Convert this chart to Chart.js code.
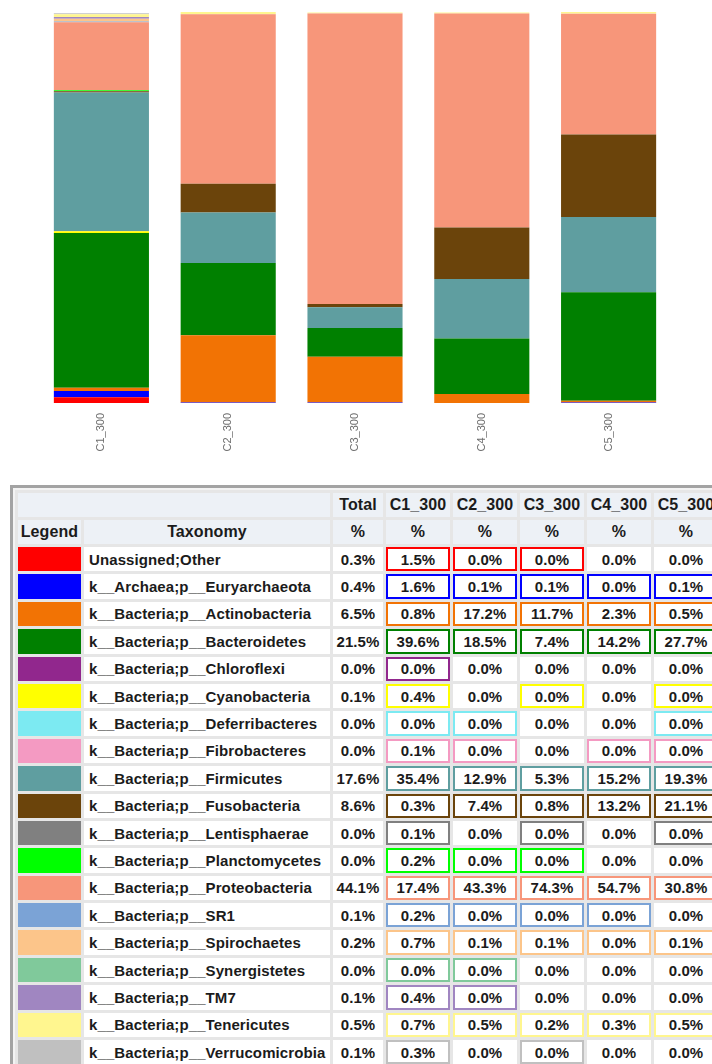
<!DOCTYPE html>
<html>
<head>
<meta charset="utf-8">
<script src="https://cdn.jsdelivr.net/npm/chart.js@4"></script>
<style>
  html, body { margin: 0; padding: 0; background: #fff; overflow: hidden; }
  body { width: 712px; height: 1064px; position: relative; font-family: "Liberation Sans", Arial, sans-serif; }
  #chartBox { position: absolute; left: 0; top: 0; width: 712px; height: 455px; }
  #tableBox {
    position: absolute; left: 10px; top: 485px; width: 740px;
    border-top: 3px solid #a3a3a3; border-left: 3px solid #a3a3a3;
    background: #f3f3f3; padding: 2px 0 0 2px;
  }
  table { border-collapse: separate; border-spacing: 3px; background: #e6e6e6; table-layout: fixed; width: 706px; }
  th, td { box-sizing: border-box; padding: 0; color: #1b1b1b; white-space: nowrap; overflow: hidden; letter-spacing: 0.1px; }
  th { background: #edf1f6; font-size: 16px; font-weight: bold; height: 24px; text-align: center; border: 2px solid #edf1f6; }
  td { background: #fff; font-size: 15px; font-weight: bold; height: 24.4px; text-align: center; border: 2px solid #fff; }
  td.tax { text-align: left; padding-left: 3px; }
  td.swatch { border: none; }
</style>
</head>
<body>
<div id="chartBox"><canvas id="taxaChart"></canvas></div>
<div id="tableBox"><table id="taxaTable"></table></div>

<script>
// sample names
const samples = ['C1_300', 'C2_300', 'C3_300', 'C4_300', 'C5_300'];

const taxa = [
  'Unassigned;Other',
  'k__Archaea;p__Euryarchaeota',
  'k__Bacteria;p__Actinobacteria',
  'k__Bacteria;p__Bacteroidetes',
  'k__Bacteria;p__Chloroflexi',
  'k__Bacteria;p__Cyanobacteria',
  'k__Bacteria;p__Deferribacteres',
  'k__Bacteria;p__Fibrobacteres',
  'k__Bacteria;p__Firmicutes',
  'k__Bacteria;p__Fusobacteria',
  'k__Bacteria;p__Lentisphaerae',
  'k__Bacteria;p__Planctomycetes',
  'k__Bacteria;p__Proteobacteria',
  'k__Bacteria;p__SR1',
  'k__Bacteria;p__Spirochaetes',
  'k__Bacteria;p__Synergistetes',
  'k__Bacteria;p__TM7',
  'k__Bacteria;p__Tenericutes',
  'k__Bacteria;p__Verrucomicrobia'
];

const taxaColors = [
  '#ff0000', '#0000ff', '#f27304', '#008000', '#91278d', '#ffff00', '#7ceaf2',
  '#f49ac2', '#5f9ea0', '#6b440b', '#808080', '#00ff00', '#f7967a', '#7ba3d6',
  '#fcc58a', '#80c99b', '#a086c1', '#fff68f', '#c0c0c0'
];

// percentages (%), same order as taxa
const totalValues = [0.3, 0.4, 6.5, 21.5, 0.0, 0.1, 0.0, 0.0, 17.6, 8.6, 0.0, 0.0, 44.1, 0.1, 0.2, 0.0, 0.1, 0.5, 0.1];
const c1Values = [1.5, 1.6, 0.8, 39.6, 0.0, 0.4, 0.0, 0.1, 35.4, 0.3, 0.1, 0.2, 17.4, 0.2, 0.7, 0.0, 0.4, 0.7, 0.3];
const c2Values = [0.0, 0.1, 17.2, 18.5, 0.0, 0.0, 0.0, 0.0, 12.9, 7.4, 0.0, 0.0, 43.3, 0.0, 0.1, 0.0, 0.0, 0.5, 0.0];
const c3Values = [0.0, 0.1, 11.7, 7.4, 0.0, 0.0, 0.0, 0.0, 5.3, 0.8, 0.0, 0.0, 74.3, 0.0, 0.1, 0.0, 0.0, 0.2, 0.0];
const c4Values = [0.0, 0.0, 2.3, 14.2, 0.0, 0.0, 0.0, 0.0, 15.2, 13.2, 0.0, 0.0, 54.7, 0.0, 0.0, 0.0, 0.0, 0.3, 0.0];
const c5Values = [0.0, 0.1, 0.5, 27.7, 0.0, 0.0, 0.0, 0.0, 19.3, 21.1, 0.0, 0.0, 30.8, 0.0, 0.1, 0.0, 0.0, 0.5, 0.0];

// which cells are present in the sample (drawn with a coloured box)
const c1Present = [1, 1, 1, 1, 1, 1, 1, 1, 1, 1, 1, 1, 1, 1, 1, 1, 1, 1, 1];
const c2Present = [1, 1, 1, 1, 0, 0, 1, 1, 1, 1, 0, 1, 1, 1, 1, 1, 1, 1, 0];
const c3Present = [1, 1, 1, 1, 0, 1, 0, 0, 1, 1, 1, 1, 1, 1, 1, 0, 0, 1, 1];
const c4Present = [0, 1, 1, 1, 0, 0, 0, 1, 1, 1, 0, 0, 1, 1, 1, 0, 0, 1, 0];
const c5Present = [0, 1, 1, 1, 0, 1, 1, 1, 1, 1, 1, 0, 1, 0, 1, 0, 0, 1, 0];

const sampleValues = [c1Values, c2Values, c3Values, c4Values, c5Values];
const samplePresent = [c1Present, c2Present, c3Present, c4Present, c5Present];

// stacked bars, first taxon at the bottom
const datasets = taxa.map((name, i) => ({
  label: name,
  data: sampleValues.map(vals => vals[i]),
  backgroundColor: taxaColors[i],
  borderWidth: 0
}));

new Chart(document.getElementById('taxaChart').getContext('2d'), {
  type: 'bar',
  data: { labels: samples, datasets: datasets },
  options: {
    responsive: true,
    maintainAspectRatio: false,
    animation: false,
    layout: { padding: { top: 12, left: 38, right: 40, bottom: 0 } },
    datasets: { bar: { barPercentage: 1, categoryPercentage: 0.75 } },
    scales: {
      x: {
        stacked: true,
        grid: { display: false },
        border: { display: false },
        ticks: {
          minRotation: 90, maxRotation: 90, padding: 2,
          color: '#6e6e6e',
          font: { family: 'Liberation Sans', size: 11 }
        },
        afterFit: scale => { scale.height = 52; }
      },
      y: { stacked: true, display: false, min: 0, max: 100 }
    },
    plugins: { legend: { display: false }, tooltip: { enabled: false } }
  }
});

// table under the chart
const colWidths = [63, 246, 50, 64, 64, 64, 64, 64];
const fmt = v => v.toFixed(1) + '%';
const table = document.getElementById('taxaTable');

const colgroup = document.createElement('colgroup');
colWidths.forEach(w => {
  const col = document.createElement('col');
  col.style.width = w + 'px';
  colgroup.appendChild(col);
});
table.appendChild(colgroup);

let tr = document.createElement('tr');
tr.innerHTML = '<th colspan="2"></th><th>Total</th>' + samples.map(s => `<th>${s}</th>`).join('');
table.appendChild(tr);

tr = document.createElement('tr');
tr.innerHTML = '<th>Legend</th><th>Taxonomy</th><th>%</th>' + samples.map(() => '<th>%</th>').join('');
table.appendChild(tr);

taxa.forEach((name, i) => {
  const row = document.createElement('tr');
  let html = `<td class="swatch" style="background:${taxaColors[i]}"></td>`;
  html += `<td class="tax">${name}</td>`;
  html += `<td>${fmt(totalValues[i])}</td>`;
  sampleValues.forEach((vals, s) => {
    const border = samplePresent[s][i] ? `border-color:${taxaColors[i]}` : '';
    html += `<td style="${border}">${fmt(vals[i])}</td>`;
  });
  row.innerHTML = html;
  table.appendChild(row);
});
</script>
</body>
</html>
